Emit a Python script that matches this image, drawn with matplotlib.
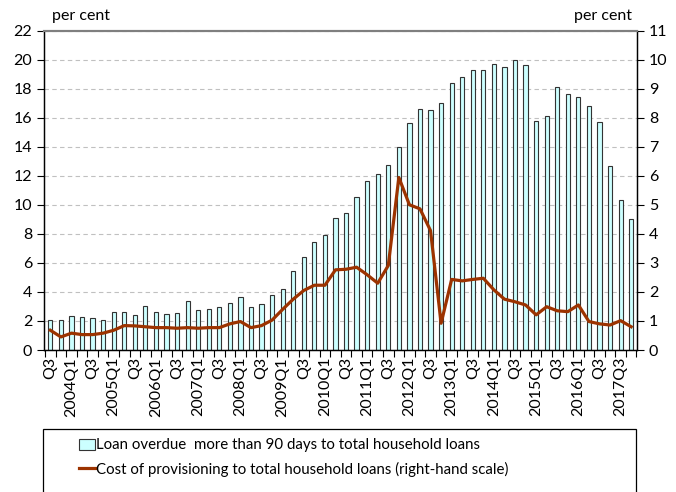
import numpy as np
import matplotlib.pyplot as plt
from matplotlib.patches import Rectangle
from matplotlib.lines import Line2D

plt.rcParams['font.family'] = ['Lato', 'DejaVu Sans']

# quarterly labels, every second bar labelled (as in the original)
tick_labels = ['Q3', '2004Q1', 'Q3', '2005Q1', 'Q3', '2006Q1', 'Q3', '2007Q1',
               'Q3', '2008Q1', 'Q3', '2009Q1', 'Q3', '2010Q1', 'Q3', '2011Q1',
               'Q3', '2012Q1', 'Q3', '2013Q1', 'Q3', '2014Q1', 'Q3', '2015Q1',
               'Q3', '2016Q1', 'Q3', '2017Q3']

# loans overdue > 90 days, % of household loans (left scale)
overdue = [2.06, 2.06, 2.34, 2.27, 2.20, 2.06, 2.59, 2.64, 2.41, 3.03,
           2.59, 2.48, 2.55, 3.39, 2.78, 2.84, 2.95, 3.21, 3.62, 2.99,
           3.20, 3.79, 4.23, 5.43, 6.41, 7.45, 7.95, 9.10, 9.40, 10.55,
           11.66, 12.14, 12.74, 13.95, 15.61, 16.6, 16.55, 17.0, 18.4, 18.8,
           19.3, 19.3, 19.7, 19.5, 20.0, 19.6, 15.8, 16.1, 18.1, 17.6,
           17.4, 16.8, 15.7, 12.7, 10.3, 9.0]

# cost of provisioning, % of household loans (right scale)
provisioning = [0.68, 0.45, 0.58, 0.53, 0.53, 0.58, 0.68, 0.84, 0.83, 0.80,
                0.77, 0.77, 0.75, 0.77, 0.75, 0.77, 0.77, 0.90, 0.98, 0.77,
                0.84, 1.03, 1.40, 1.75, 2.05, 2.23, 2.23, 2.76, 2.78, 2.85,
                2.59, 2.30, 2.91, 5.94, 5.00, 4.86, 4.11, 0.92, 2.43, 2.38,
                2.43, 2.47, 2.07, 1.75, 1.66, 1.55, 1.21, 1.49, 1.35, 1.32,
                1.55, 0.98, 0.90, 0.86, 1.01, 0.80]

bar_color = '#ccffff'
line_color = '#9c3300'
fs = 11.5

x = np.arange(len(overdue))

fig = plt.figure(figsize=(6.76, 4.92), dpi=100)
ax = fig.add_axes([44 / 676, 1 - 350 / 492, (637 - 44) / 676, (350 - 30.5) / 492])
ax2 = ax.twinx()

ax.bar(x, overdue, width=0.4, color=bar_color, edgecolor='#333333', linewidth=0.8, zorder=2)
ax2.plot(x, provisioning, color=line_color, linewidth=2.3, zorder=3)

ax.set_xlim(-0.6, len(overdue) - 0.45)
ax.set_ylim(0, 22)
ax2.set_ylim(0, 11)
ax.set_yticks(range(0, 23, 2))
ax2.set_yticks(range(0, 12))

ax.set_xticks(x[::2])
ax.set_xticklabels(tick_labels, rotation=90, fontsize=fs)
ax.set_xticks(np.arange(-0.5, len(overdue), 1), minor=True)
ax.tick_params(axis='x', which='major', length=0, pad=5)
ax.tick_params(axis='x', which='minor', length=5, width=0.8, direction='out')
ax.tick_params(axis='y', labelsize=fs, length=5, width=0.8, direction='out')
ax2.tick_params(axis='y', labelsize=fs, length=5, width=0.8, direction='out')

ax.yaxis.grid(True, linestyle=(0, (4, 3)), color='#c0c0c0', linewidth=0.8, zorder=0)
ax.set_axisbelow(True)

for a in (ax, ax2):
    a.spines['top'].set_color('#7f7f7f')
    a.spines['top'].set_linewidth(1.5)
    a.spines['left'].set_linewidth(0.9)
    a.spines['right'].set_linewidth(0.9)
    a.spines['bottom'].set_linewidth(0.9)

fig.text(52 / 676, 1 - 16 / 492, 'per cent', fontsize=fs, va='center', ha='left')
fig.text(632 / 676, 1 - 16 / 492, 'per cent', fontsize=fs, va='center', ha='right')

# legend box, running off the bottom of the figure like the original
fig.patches.append(Rectangle((43 / 676, -0.05), (636 - 43) / 676, 0.05 + 1 - 429 / 492,
                             transform=fig.transFigure, fill=False,
                             edgecolor='black', linewidth=0.9))
handles = [Rectangle((0, 0), 1, 1, facecolor=bar_color, edgecolor='#333333', linewidth=0.8),
           Line2D([], [], color=line_color, linewidth=2.3)]
labels = ['Loan overdue  more than 90 days to total household loans',
          'Cost of provisioning to total household loans (right-hand scale)']
fig.legend(handles, labels, loc='upper left', bbox_to_anchor=(68 / 676, 1 - 428 / 492),
           frameon=False, fontsize=10.8, handlelength=1.1, handletextpad=0.1,
           labelspacing=0.6, borderpad=0.2)

fig.savefig('out.png', dpi=100)
